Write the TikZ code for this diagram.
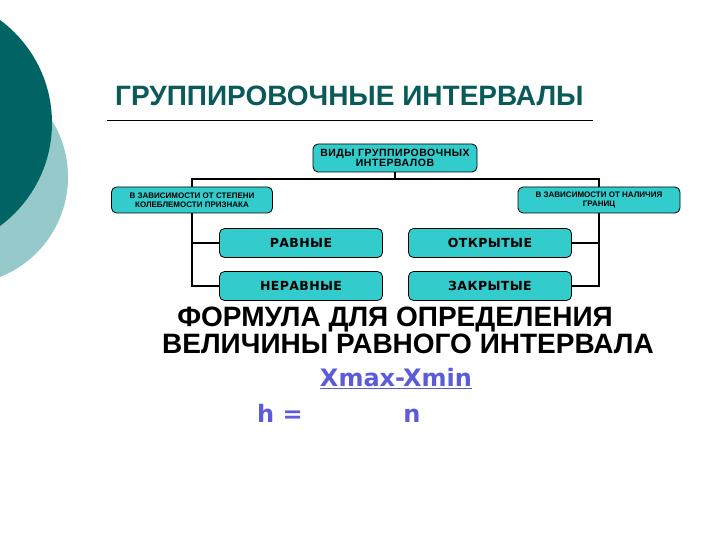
\documentclass[tikz,border=0pt]{standalone}
\usepackage{fontspec}
\setmainfont{Liberation Sans}
\newfontfamily\wideface{DejaVu Sans}
\definecolor{tealdark}{RGB}{0, 100, 100}
\definecolor{teallight}{RGB}{150, 202, 202}
\definecolor{titleteal}{RGB}{10, 90, 90}
\definecolor{boxcyan}{RGB}{51, 204, 204}
\definecolor{formulablue}{RGB}{92, 92, 218}
\usetikzlibrary{positioning, calc}

\begin{document}
\begin{tikzpicture}[x=1pt, y=-1pt,
    kindbox/.style={draw=black, fill=boxcyan, rounded corners=5pt, line width=0.8pt,
        align=center, inner sep=1pt, font=\bfseries\fontsize{8}{9}\selectfont},
    leafbox/.style={kindbox, minimum width=163pt, minimum height=29pt,
        font=\wideface\bfseries\addfontfeature{LetterSpace=3}\fontsize{12.5}{14}\selectfont},
    formtext/.style={font=\wideface\bfseries\fontsize{24}{28}\selectfont, text=formulablue,
        inner sep=0pt, anchor=base},
    tree/.style={line width=1.8pt, black}]
    \useasboundingbox (0,0) rectangle (720,540);
    % decorative circles
    \begin{scope}
        \clip (0,0) rectangle (720,540);
        \fill[teallight] (-39.5,177) circle (107.5pt);
        \fill[tealdark] (-76,123) circle (128pt);
    \end{scope}
    % title
    \node[anchor=base west, font=\bfseries\fontsize{28}{32}\selectfont, text=titleteal, inner sep=0pt] (title) at (115,106) {ГРУППИРОВОЧНЫЕ ИНТЕРВАЛЫ};
    \draw[line width=0.8pt] (107,120) -- (593,120);
    % tree
    \node[kindbox, minimum width=164pt, minimum height=28pt,
        font=\bfseries\addfontfeature{LetterSpace=5}\fontsize{10.5}{10.5}\selectfont] (vidy) at (395,158) {ВИДЫ ГРУППИРОВОЧНЫХ\\ИНТЕРВАЛОВ};
    \node[kindbox, minimum width=161pt, minimum height=26pt] (kolebl) at (192,200) {В ЗАВИСИМОСТИ ОТ СТЕПЕНИ\\КОЛЕБЛЕМОСТИ ПРИЗНАКА};
    \node[kindbox, minimum width=162pt, minimum height=26pt] (granic) at (599,200) {В ЗАВИСИМОСТИ ОТ НАЛИЧИЯ\\ГРАНИЦ};
    \node[leafbox] (ravnye) at (301,243) {РАВНЫЕ};
    \node[leafbox] (neravnye) at (301,286) {НЕРАВНЫЕ};
    \node[leafbox] (otkrytye) at (490,243) {ОТКРЫТЫЕ};
    \node[leafbox] (zakrytye) at (490,286) {ЗАКРЫТЫЕ};
    \draw[tree] (vidy.south) -- ++(0,7) -| (kolebl.north);
    \draw[tree] (vidy.south) -- ++(0,7) -| (granic.north);
    \draw[tree] (kolebl.south) |- (ravnye.west);
    \draw[tree] (kolebl.south) |- (neravnye.west);
    \draw[tree] (granic.south) |- (otkrytye.east);
    \draw[tree] (granic.south) |- (zakrytye.east);
    % formula
    \node[font=\bfseries\fontsize{28}{32}\selectfont, inner sep=0pt, anchor=base] (formula1) at (395,326) {ФОРМУЛА ДЛЯ ОПРЕДЕЛЕНИЯ};
    \node[font=\bfseries\fontsize{28}{32}\selectfont, inner sep=0pt, anchor=base] (formula2) at (408,353) {ВЕЛИЧИНЫ РАВНОГО ИНТЕРВАЛА};
    \node[formtext] (numer) at (396,386) {\underline{Xmax-Xmin}};
    \node[formtext] (heq) at (280,422) {h =};
    \node[formtext] (denom) at (412,422) {n};
\end{tikzpicture}
\end{document}
